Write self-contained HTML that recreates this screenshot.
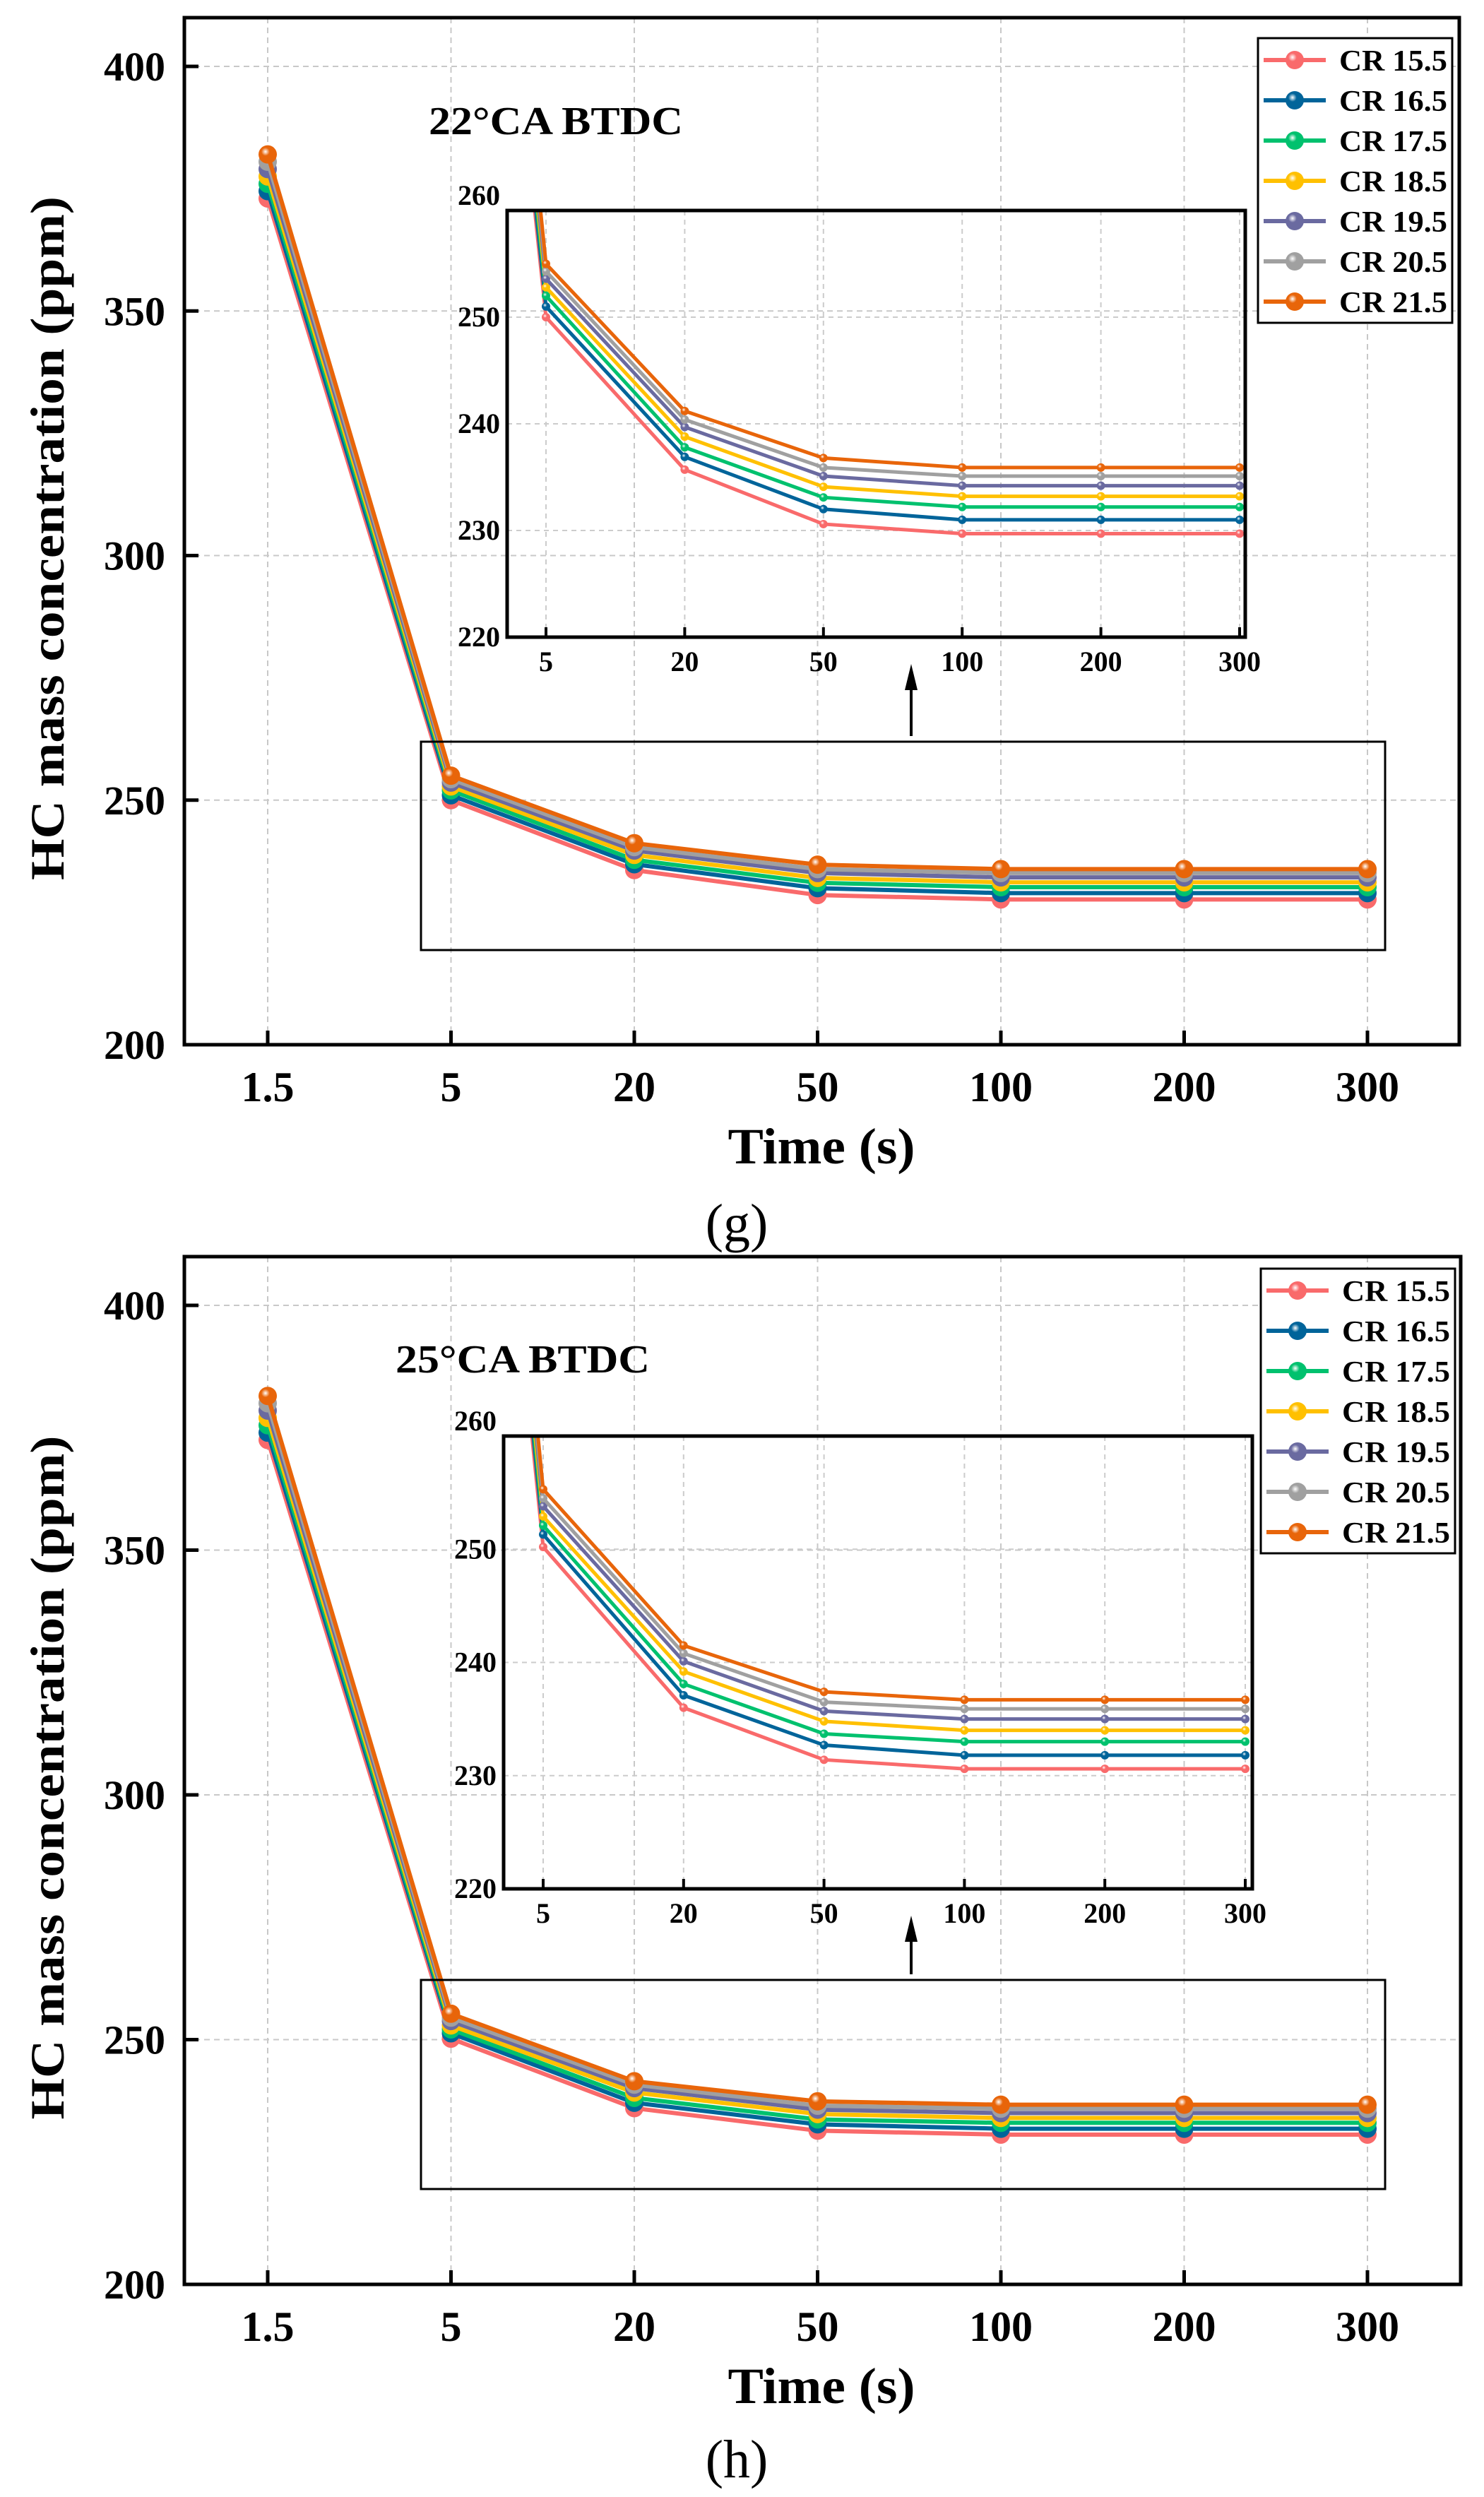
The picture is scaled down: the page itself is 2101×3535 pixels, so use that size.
<!DOCTYPE html>
<html><head><meta charset="utf-8"><style>
html,body{margin:0;padding:0;background:#fff;}
svg{display:block;font-family:"Liberation Serif",serif;font-weight:bold;}
</style></head><body>
<svg id="fig" width="2101" height="3535" viewBox="0 0 2101 3535" xmlns="http://www.w3.org/2000/svg">
<defs id="defs"></defs>
</svg>
<script>
const categories = ["1.5","5","20","50","100","200","300"];
const seriesNames = ["CR 15.5","CR 16.5","CR 17.5","CR 18.5","CR 19.5","CR 20.5","CR 21.5"];
const seriesColors = ["#F96A6B","#00649A","#00C16E","#FFC000","#6A6AA0","#A0A0A0","#E8650A"];
const yTicksMain = [200,250,300,350,400];
const yTicksInset = [220,230,240,250,260];
// Panel g (22°CA BTDC)
const g15 = [373,250.0,235.7,230.6,229.7,229.7,229.7];
const g16 = [374.5,251.0,236.9,232.0,231.0,231.0,231.0];
const g17 = [376,252.0,237.8,233.1,232.2,232.2,232.2];
const g18 = [377.5,252.8,238.8,234.1,233.2,233.2,233.2];
const g19 = [379,253.6,239.7,235.1,234.2,234.2,234.2];
const g20 = [380.5,254.3,240.4,235.9,235.1,235.1,235.1];
const g21 = [382,255.0,241.2,236.8,235.9,235.9,235.9];
// Panel h (25°CA BTDC)
const h15 = [372.5,250.2,236.0,231.4,230.6,230.6,230.6];
const h16 = [374,251.3,237.1,232.7,231.8,231.8,231.8];
const h17 = [375.5,252.1,238.1,233.7,233.0,233.0,233.0];
const h18 = [377,252.9,239.2,234.8,234.0,234.0,234.0];
const h19 = [378.5,253.8,240.1,235.7,235.0,235.0,235.0];
const h20 = [380,254.5,240.8,236.5,235.9,235.9,235.9];
const h21 = [381.5,255.3,241.5,237.4,236.7,236.7,236.7];

const NS="http://www.w3.org/2000/svg";
const svg=document.getElementById('fig');
const defs=document.getElementById('defs');
function mk(tag,attrs,parent){const e=document.createElementNS(NS,tag);for(const k in attrs)e.setAttribute(k,attrs[k]);(parent||svg).appendChild(e);return e;}
seriesColors.forEach((c,i)=>{
  const gr=mk('radialGradient',{id:'sph'+i,cx:'0.38',cy:'0.35',r:'0.65'},defs);
  mk('stop',{offset:'0','stop-color':'#ffffff'},gr);
  mk('stop',{offset:'0.35','stop-color':c},gr);
  mk('stop',{offset:'1','stop-color':c},gr);
});

function panel(P){
  const G=mk('g',{});
  
  
  const xM=i=>P.x0+i*P.dx;
  const yM=v=>P.bottom-(v-200)*(P.bottom-P.y400)/200;
  const grid=mk('g',{stroke:'#c8c8c8','stroke-width':2,'stroke-dasharray':'8,6'},G);
  
  
  categories.forEach((c,i)=>mk('line',{x1:xM(i),x2:xM(i),y1:P.top,y2:P.bottom},grid));
  yTicksMain.slice(1).forEach(v=>mk('line',{x1:P.left,x2:P.right,y1:yM(v),y2:yM(v)},grid));
  const data=P.data;
  data.forEach((arr,s)=>{
    const sg=mk('g',{},G);
    
    
    mk('polyline',{points:arr.map((v,i)=>xM(i)+','+yM(v)).join(' '),fill:'none',stroke:seriesColors[s],'stroke-width':6,'stroke-linejoin':'round'},sg);
    arr.forEach((v,i)=>{const c=mk('circle',{cx:xM(i),cy:yM(v),r:13,fill:'url(#sph'+s+')'},sg);
      
      });
  });
  const ax=mk('rect',{x:P.left,y:P.top,width:P.right-P.left,height:P.bottom-P.top,fill:'none',stroke:'#000','stroke-width':5},G);
  
  
  categories.forEach((c,i)=>{
    mk('line',{x1:xM(i),x2:xM(i),y1:P.bottom,y2:P.bottom-20,stroke:'#000','stroke-width':5},G);
    const t=mk('text',{x:xM(i),y:P.bottom+80,'font-size':60,'text-anchor':'middle'},G);t.textContent=c;
    
    
  });
  yTicksMain.forEach(v=>{
    mk('line',{x1:P.left,x2:P.left+20,y1:yM(v),y2:yM(v),stroke:'#000','stroke-width':5},G);
    const t=mk('text',{x:P.left-27,y:yM(v)+20,'font-size':58,'text-anchor':'end'},G);t.textContent=v;
    
    
  });
  let t=mk('text',{x:1163,y:P.bottom+168,'font-size':72,'text-anchor':'middle',textLength:265,lengthAdjust:'spacingAndGlyphs'},G);t.textContent='Time (s)';
  
  
  const cy=(P.top+P.bottom)/2+10;
  t=mk('text',{x:0,y:0,'font-size':68,'text-anchor':'middle',transform:`translate(90,${cy}) rotate(-90)`,textLength:968,lengthAdjust:'spacingAndGlyphs'},G);t.textContent='HC mass concentration (ppm)';
  
  
  t=mk('text',{x:1043,y:P.label_y,'font-size':76,'font-weight':'normal','text-anchor':'middle'},G);t.textContent=P.label;
  
  
  t=mk('text',{x:P.titleX,y:P.titleY,'font-size':56,textLength:360,lengthAdjust:'spacingAndGlyphs'},G);t.textContent=P.title;
  
  
  const zr=mk('rect',{x:596,y:P.zTop,width:1365,height:P.zBot-P.zTop,fill:'none',stroke:'#000','stroke-width':3},G);
  
  
  mk('line',{x1:1290,x2:1290,y1:P.zTop-8,y2:P.I.bottom+70,stroke:'#000','stroke-width':4},G);
  const ah=mk('polygon',{points:`1290,${P.I.bottom+38} 1281,${P.I.bottom+75} 1299,${P.I.bottom+75}`,fill:'#000'},G);
  
  
  const I=P.I;
  const xI=i=>I.x5+(i-1)*I.dx;
  const yI=v=>I.bottom-(v-220)*(I.bottom-I.top)/40;
  const ig=mk('g',{},G);
  
  
  const cid='clip'+P.key;
  const cp=mk('clipPath',{id:cid},defs);
  mk('rect',{x:I.left,y:I.top,width:I.right-I.left,height:I.bottom-I.top},cp);
  const igr=mk('g',{stroke:'#cccccc','stroke-width':2,'stroke-dasharray':'7,6'},ig);
  for(let i=1;i<7;i++)mk('line',{x1:xI(i),x2:xI(i),y1:I.top,y2:I.bottom},igr);
  yTicksInset.slice(1,4).forEach(v=>mk('line',{x1:I.left,x2:I.right,y1:yI(v),y2:yI(v)},igr));
  const cl=mk('g',{'clip-path':`url(#${cid})`},ig);
  data.forEach((arr,s)=>{
    const sg=mk('g',{},cl);
    
    
    mk('polyline',{points:arr.map((v,i)=>xI(i)+','+yI(v)).join(' '),fill:'none',stroke:seriesColors[s],'stroke-width':5,'stroke-linejoin':'round'},sg);
    arr.forEach((v,i)=>{if(i>0){const c=mk('circle',{cx:xI(i),cy:yI(v),r:6,fill:'url(#sph'+s+')'},sg);
      
      }});
  });
  mk('rect',{x:I.left,y:I.top,width:I.right-I.left,height:I.bottom-I.top,fill:'none',stroke:'#000','stroke-width':5},ig);
  for(let i=1;i<7;i++){
    mk('line',{x1:xI(i),x2:xI(i),y1:I.bottom,y2:I.bottom-14,stroke:'#000','stroke-width':4},ig);
    const tt=mk('text',{x:xI(i),y:I.bottom+48,'font-size':40,'text-anchor':'middle'},ig);tt.textContent=categories[i];
    
    
  }
  yTicksInset.forEach(v=>{
    const tt=mk('text',{x:I.left-10,y:yI(v)+(v===260?-8:13),'font-size':40,'text-anchor':'end'},ig);tt.textContent=v;
    
    
  });
  const L=P.L;
  const lg=mk('g',{},G);
  
  
  mk('rect',{x:L.x,y:L.y,width:275,height:403,fill:'#fff',stroke:'#000','stroke-width':3},lg);
  seriesNames.forEach((n,s)=>{
    const yy=L.y+31+s*57;
    const eg=mk('g',{},lg);
    
    
    mk('line',{x1:L.x+8,x2:L.x+96,y1:yy,y2:yy,stroke:seriesColors[s],'stroke-width':6},eg);
    mk('circle',{cx:L.x+52,cy:yy,r:13,fill:'url(#sph'+s+')'},eg);
    const tt=mk('text',{x:L.x+115,y:yy+15,'font-size':42,textLength:153,lengthAdjust:'spacingAndGlyphs'},eg);tt.textContent=n;
  });
}
panel({key:'g',name:'panel-g',label:'(g)',label_y:1757,title:'22°CA BTDC',titleX:607,titleY:190,
  left:261,right:2066,top:25,bottom:1479,y400:94,x0:379,dx:259.5,zTop:1050,zBot:1345,
  I:{left:718,right:1763,top:298,bottom:902,x5:773,dx:196.4},L:{x:1781,y:54},
  data:[g15,g16,g17,g18,g19,g20,g21]});
panel({key:'h',name:'panel-h',label:'(h)',label_y:3507,title:'25°CA BTDC',titleX:560,titleY:1943,
  left:261,right:2068,top:1779,bottom:3234,y400:1848,x0:379,dx:259.5,zTop:2803,zBot:3099,
  I:{left:713,right:1773,top:2033,bottom:2674,x5:769,dx:198.8},L:{x:1785,y:1796},
  data:[h15,h16,h17,h18,h19,h20,h21]});
</script>
</body></html>
